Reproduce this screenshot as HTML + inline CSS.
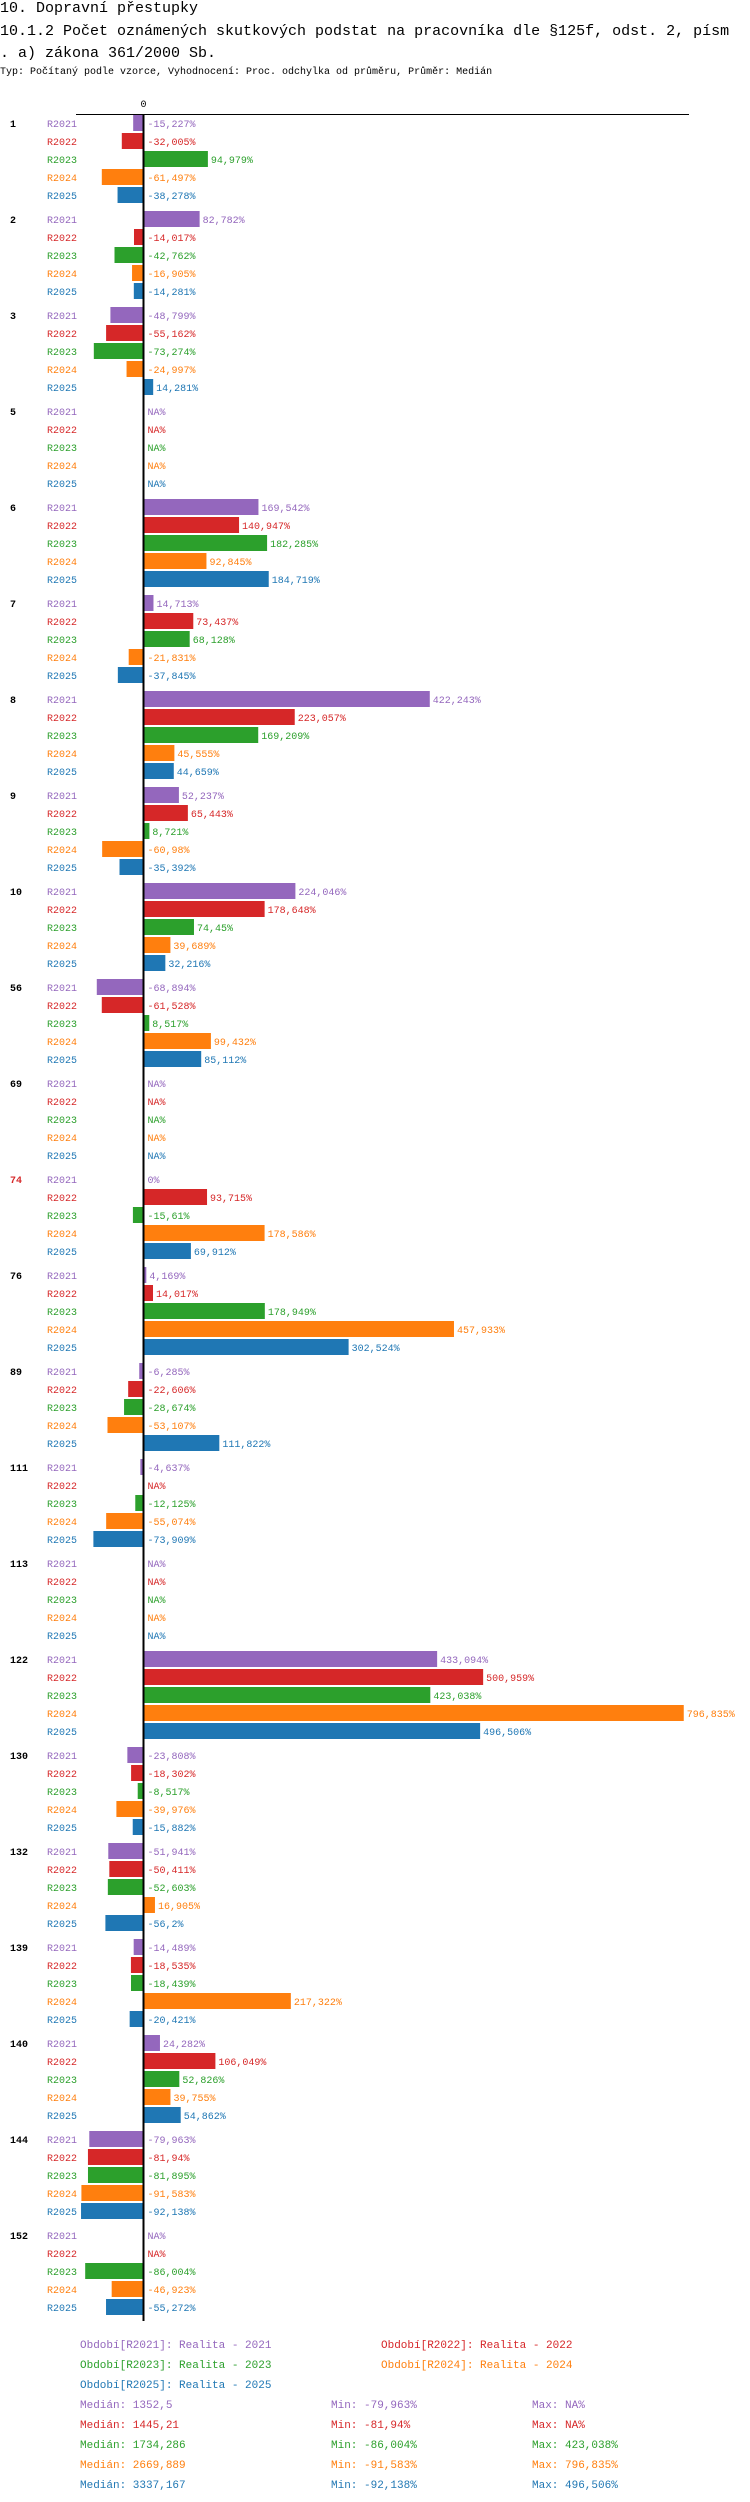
<!DOCTYPE html>
<html><head><meta charset="utf-8">
<style>
body{margin:0;background:#fff;width:750px;height:2502px;overflow:hidden;font-family:"Liberation Mono",monospace;}
.t{position:absolute;left:0;white-space:nowrap;color:#000;}
</style></head>
<body>
<div class="t" style="top:0px;font-size:15px;line-height:18px">10. Dopravní přestupky</div>
<div class="t" style="top:21px;font-size:15px;line-height:22px">10.1.2 Počet oznámených skutkových podstat na pracovníka dle §125f, odst. 2, písm<br>. a) zákona 361/2000 Sb.</div>
<div class="t" style="top:67px;font-size:10px;line-height:12px">Typ: Počítaný podle vzorce, Vyhodnocení: Proc. odchylka od průměru, Průměr: Medián</div>
<svg id="chart" width="750" height="2502" style="position:absolute;left:0;top:0" font-family="Liberation Mono, monospace" font-size="10"></svg>
<script>
const groups=["1","2","3","5","6","7","8","9","10","56","69","74","76","89","111","113","122","130","132","139","140","144","152"];
const series=["R2021","R2022","R2023","R2024","R2025"];
const colors=["#9467bd","#d62728","#2ca02c","#ff7f0e","#1f77b4"];
const v2021=[-15.227,82.782,-48.799,null,169.542,14.713,422.243,52.237,224.046,-68.894,null,0,4.169,-6.285,-4.637,null,433.094,-23.808,-51.941,-14.489,24.282,-79.963,null];
const v2022=[-32.005,-14.017,-55.162,null,140.947,73.437,223.057,65.443,178.648,-61.528,null,93.715,14.017,-22.606,null,null,500.959,-18.302,-50.411,-18.535,106.049,-81.94,null];
const v2023=[94.979,-42.762,-73.274,null,182.285,68.128,169.209,8.721,74.45,8.517,null,-15.61,178.949,-28.674,-12.125,null,423.038,-8.517,-52.603,-18.439,52.826,-81.895,-86.004];
const v2024=[-61.497,-16.905,-24.997,null,92.845,-21.831,45.555,-60.98,39.689,99.432,null,178.586,457.933,-53.107,-55.074,null,796.835,-39.976,16.905,217.322,39.755,-91.583,-46.923];
const v2025=[-38.278,-14.281,14.281,null,184.719,-37.845,44.659,-35.392,32.216,85.112,null,69.912,302.524,111.822,-73.909,null,496.506,-15.882,-56.2,-20.421,54.862,-92.138,-55.272];
const values=[v2021,v2022,v2023,v2024,v2025];
const NS="http://www.w3.org/2000/svg";
const svg=document.getElementById('chart');
const X0=143.5,K=0.678,TOP=114,ROW=18,PITCH=96,Y1=123;
const x=v=>X0+v*K;
const yRow=(g,s)=>Y1+g*PITCH+s*ROW;
function fmt(v){return (Math.round(v*1000)/1000).toString().replace('.',',')+'%';}
function mk(tag,attrs){const e=document.createElementNS(NS,tag);for(const k in attrs)e.setAttribute(k,attrs[k]);svg.appendChild(e);return e;}
let axl=mk('line',{x1:76,x2:689,y1:TOP+0.5,y2:TOP+0.5,stroke:'#000','stroke-width':1});


let zt=mk('text',{x:X0,y:107,'text-anchor':'middle',fill:'#000'});zt.textContent='0';


groups.forEach((g,gi)=>{
  let gl=mk('text',{x:10,y:yRow(gi,0)+4,'font-weight':'bold',fill:g==='74'?'#d62728':'#000'});gl.textContent=g;
  
  
  series.forEach((s,si)=>{
    const yc=yRow(gi,si),v=values[si][gi],c=colors[si];
    let sl=mk('text',{x:47,y:yc+4,fill:c});sl.textContent=s;
    
    
    let tx=X0+4;
    if(v!==null&&v!==0){
      const x1=Math.min(x(0),x(v)),w=Math.abs(x(v)-x(0));
      let r=mk('rect',{x:x1,y:yc-8,width:w,height:16,fill:c});
      
      
      if(v>0)tx=x(v)+3;
    }
    let vt=mk('text',{x:tx,y:yc+4,fill:c});vt.textContent=v===null?'NA%':fmt(v);
    
    
  });
});
let yEnd=yRow(groups.length-1,4)+10;
let zl=mk('line',{x1:X0,x2:X0,y1:TOP,y2:yEnd+4,stroke:'#000','stroke-width':2});


const legendNames=["Období[R2021]: Realita - 2021","Období[R2022]: Realita - 2022","Období[R2023]: Realita - 2023","Období[R2024]: Realita - 2024","Období[R2025]: Realita - 2025"];
const medians=["1352,5","1445,21","1734,286","2669,889","3337,167"];
const mins=["-79,963%","-81,94%","-86,004%","-91,583%","-92,138%"];
const maxs=["NA%","NA%","423,038%","796,835%","496,506%"];
legendNames.forEach((n,i)=>{
  let t=mk('text',{x:i%2?381:80,y:2348+Math.floor(i/2)*20,fill:colors[i],'font-size':11});t.textContent=n;
  
  
});
for(let i=0;i<5;i++){
  const y=2408+i*20;
  let a=mk('text',{x:80,y:y,fill:colors[i],'font-size':11});a.textContent='Medián: '+medians[i];
  
  
  let b=mk('text',{x:331,y:y,fill:colors[i],'font-size':11});b.textContent='Min: '+mins[i];
  
  
  let c=mk('text',{x:532,y:y,fill:colors[i],'font-size':11});c.textContent='Max: '+maxs[i];
  
  
}
</script>
</body></html>
